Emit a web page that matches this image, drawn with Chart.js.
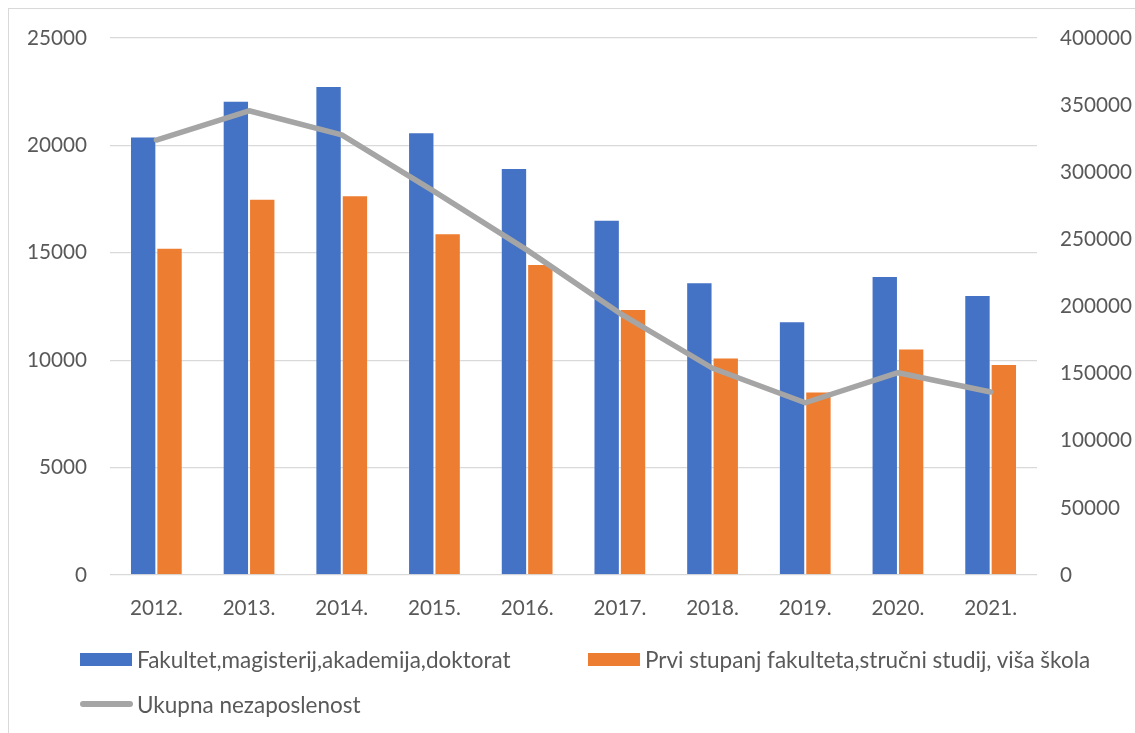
<!DOCTYPE html>
<html>
<head>
<meta charset="utf-8">
<script src="https://cdn.jsdelivr.net/npm/chart.js@4.4.1/dist/chart.umd.min.js"></script>
<style>
html,body{margin:0;padding:0;background:#fff;}
#wrap{position:relative;width:1135px;height:733px;overflow:hidden;background:#fff;}
#frame{position:absolute;left:8px;top:8px;width:1300px;height:900px;border:1.5px solid #D9D9D9;box-sizing:border-box;}
#c{position:absolute;left:0;top:0;}
.leg{position:absolute;font-family:Lato, sans-serif;color:#595959;white-space:nowrap;line-height:24px;}
.sw{position:absolute;}
</style>
</head>
<body>
<div id="wrap">
  <div id="frame"></div>
  <canvas id="c" width="1135" height="733"></canvas>
  <div id="legend"></div>
</div>
<script>
// ---- data ----
const categories = ['2012.', '2013.', '2014.', '2015.', '2016.', '2017.', '2018.', '2019.', '2020.', '2021.'];
const fakultet = [20420, 22080, 22770, 20610, 18950, 16540, 13630, 11810, 13920, 13040];
const prviStupanj = [15240, 17520, 17680, 15910, 14480, 12380, 10120, 8540, 10540, 9820];
const ukupna = [324000, 345800, 327800, 285500, 242000, 194900, 154000, 128300, 150700, 136300];
const seriesNames = ['Fakultet,magisterij,akademija,doktorat', 'Prvi stupanj fakulteta,stručni studij, viša škola', 'Ukupna nezaposlenost'];
const leftTicks = [0, 5000, 10000, 15000, 20000, 25000];
const rightTicks = [0, 50000, 100000, 150000, 200000, 250000, 300000, 350000, 400000];

// ---- styling helpers ----
const FAMILY = 'Lato';
const mctx = document.createElement('canvas').getContext('2d');
function fitSize(text, target) {
  mctx.font = '20px ' + FAMILY;
  return 20 * target / mctx.measureText(text).width;
}
const tickSize = fitSize('25000', 60);
const legendSize = fitSize(seriesNames[1], 446);
const TXT = '#595959';
const BLUE = '#4472C4', ORANGE = '#ED7D31', GREY = '#A5A5A5';
const plain = v => String(v);

const chart = new Chart(document.getElementById('c'), {
  data: {
    labels: categories,
    datasets: [
      { type: 'line', label: seriesNames[2], data: ukupna, yAxisID: 'y1', borderColor: GREY, backgroundColor: GREY,
        borderWidth: 5.5, pointRadius: 0, tension: 0, borderCapStyle: 'round', borderJoinStyle: 'round', order: 0 },
      { type: 'bar', label: seriesNames[0], data: fakultet, yAxisID: 'y', backgroundColor: BLUE,
        borderColor: 'rgba(255,255,255,0.25)', borderWidth: 1, categoryPercentage: 0.569, barPercentage: 1, order: 1 },
      { type: 'bar', label: seriesNames[1], data: prviStupanj, yAxisID: 'y', backgroundColor: ORANGE,
        borderColor: 'rgba(255,255,255,0.25)', borderWidth: 1, categoryPercentage: 0.569, barPercentage: 1, order: 1 }
    ]
  },
  options: {
    responsive: false,
    animation: false,
    devicePixelRatio: 1,
    layout: { padding: { top: 38, bottom: 98, left: 0, right: 0 } },
    plugins: { legend: { display: false }, tooltip: { enabled: false } },
    scales: {
      x: {
        grid: { display: false, drawTicks: false },
        border: { display: false },
        ticks: { color: TXT, font: { family: FAMILY, size: tickSize }, padding: 21, maxRotation: 0 },
        afterFit(s) { s.height = 60; }
      },
      y: {
        position: 'left', min: 0, max: 25000,
        afterBuildTicks(s) { s.ticks = leftTicks.map(v => ({ value: v })); },
        ticks: { color: TXT, font: { family: FAMILY, size: tickSize }, padding: 23, callback: plain },
        grid: { color: '#D9D9D9', lineWidth: 1.3, drawTicks: false },
        border: { display: false },
        afterFit(s) { s.width = 110; }
      },
      y1: {
        position: 'right', min: 0, max: 400000,
        afterBuildTicks(s) { s.ticks = rightTicks.map(v => ({ value: v })); },
        ticks: { color: TXT, font: { family: FAMILY, size: tickSize }, padding: 23, callback: plain },
        grid: { display: false, drawTicks: false },
        border: { display: false },
        afterFit(s) { s.width = 98; }
      }
    }
  }
});

// ---- legend (HTML, built from dataset names/colours) ----
const legend = document.getElementById('legend');
const items = [
  { ds: 1, x: 80, cy: 660, kind: 'box' },
  { ds: 2, x: 588, cy: 660, kind: 'box' },
  { ds: 0, x: 80, cy: 705, kind: 'line' }
];
items.forEach(it => {
  const d = chart.data.datasets[it.ds];
  const sw = document.createElement('div');
  sw.className = 'sw';
  if (it.kind === 'box') {
    sw.style.cssText = `left:${it.x}px;top:${it.cy - 7}px;width:52px;height:13px;background:${d.backgroundColor}`;
  } else {
    sw.style.cssText = `left:${it.x}px;top:${it.cy - 4}px;width:53px;height:6px;border-radius:3px;background:${d.borderColor}`;
  }
  legend.appendChild(sw);
  const t = document.createElement('div');
  t.className = 'leg';
  t.textContent = d.label;
  t.style.left = (it.x + 57) + 'px';
  t.style.top = (it.cy - 12) + 'px';
  t.style.fontSize = legendSize + 'px';
  legend.appendChild(t);
});
</script>
</body>
</html>
